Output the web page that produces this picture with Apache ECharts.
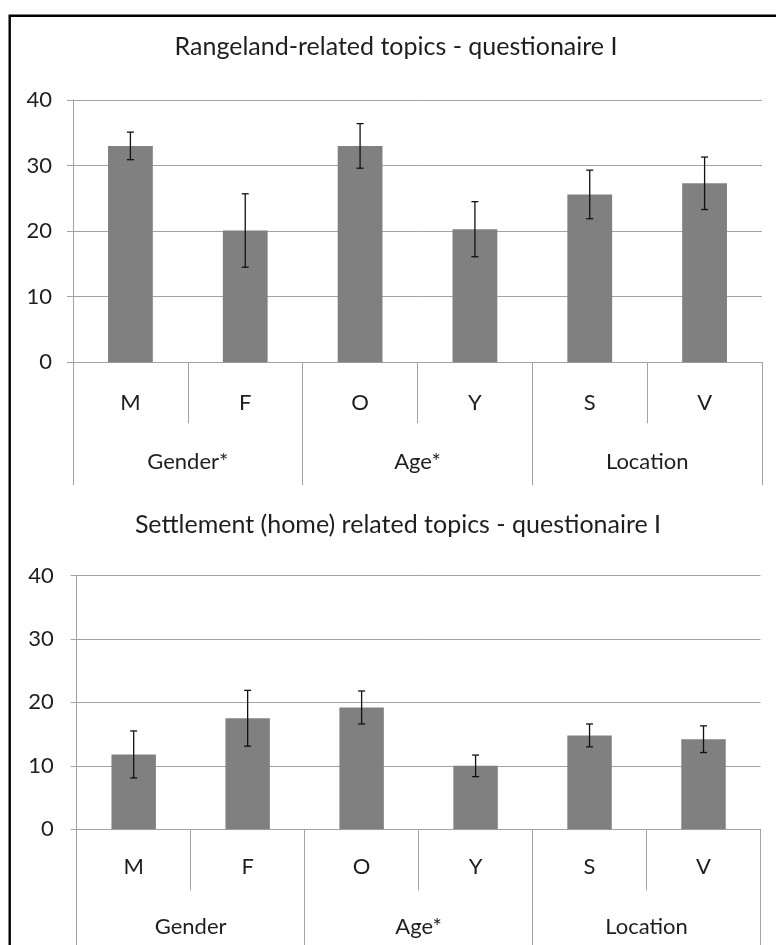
<!DOCTYPE html>
<html>
<head>
<meta charset="utf-8">
<script src="https://cdn.jsdelivr.net/npm/echarts@6/dist/echarts.min.js"></script>
<style>
html,body{margin:0;padding:0;background:#fff;}
#chart{width:776px;height:945px;}
</style>
</head>
<body>
<div id="chart"></div>
<script>
const categories = ['M', 'F', 'O', 'Y', 'S', 'V'];
const groupsTop = ['Gender*', 'Age*', 'Location'];
const groupsBottom = ['Gender', 'Age*', 'Location'];
const titleTop = 'Rangeland-related topics - questionaire I';
const titleBottom = 'Settlement (home) related topics - questionaire I';
const rangelandMean = [33.0, 20.1, 33.0, 20.3, 25.6, 27.3];
const rangelandErr = [2.1, 5.6, 3.4, 4.2, 3.7, 4.0];
const settlementMean = [11.8, 17.5, 19.2, 10.0, 14.8, 14.2];
const settlementErr = [3.7, 4.4, 2.6, 1.7, 1.8, 2.1];
const yTicks = { min: 0, max: 40, interval: 10 };

const FONT = 'Lato, Carlito, "Open Sans", sans-serif';
const TXT = '#1e1e1e';
const GRID = '#a3a3a3';
const FS = 22;
const TFS = 25;

function errData(mean, err) {
  return mean.map((m, i) => [i, m - err[i], m + err[i]]);
}

function errRender(params, api) {
  const i = api.value(0);
  const lo = api.coord([i, api.value(1)]);
  const hi = api.coord([i, api.value(2)]);
  const hw = 3.5;
  const st = { stroke: '#111', lineWidth: 1.3 };
  return {
    type: 'group',
    children: [
      { type: 'line', shape: { x1: hi[0], y1: hi[1], x2: lo[0], y2: lo[1] }, style: st },
      { type: 'line', shape: { x1: hi[0] - hw, y1: hi[1], x2: hi[0] + hw, y2: hi[1] }, style: st },
      { type: 'line', shape: { x1: lo[0] - hw, y1: lo[1], x2: lo[0] + hw, y2: lo[1] }, style: st }
    ]
  };
}

function xAxes(gi, groups, m1, m2, tick2) {
  return [
    {
      type: 'category', gridIndex: gi, data: categories, position: 'bottom',
      boundaryGap: true,
      axisLine: { show: true, lineStyle: { color: GRID, width: 1 } },
      axisTick: { show: true, interval: 0, length: 61, lineStyle: { color: GRID, width: 1 } },
      axisLabel: { interval: 0, margin: m1, color: TXT, fontSize: FS, fontFamily: FONT }
    },
    {
      type: 'category', gridIndex: gi, data: groups, position: 'bottom',
      boundaryGap: true,
      axisLine: { show: false },
      axisTick: { show: true, interval: 0, length: tick2, lineStyle: { color: GRID, width: 1 } },
      axisLabel: { interval: 0, margin: m2, color: TXT, fontSize: FS, fontFamily: FONT }
    }
  ];
}

function yAxis(gi, margin) {
  return {
    type: 'value', gridIndex: gi, min: yTicks.min, max: yTicks.max, interval: yTicks.interval,
    axisLine: { show: true, lineStyle: { color: GRID, width: 1 } },
    axisTick: { show: true, length: 6, lineStyle: { color: GRID, width: 1 } },
    splitLine: { show: true, lineStyle: { color: GRID, width: 1 } },
    axisLabel: { margin: margin, color: TXT, fontSize: FS, fontFamily: FONT }
  };
}

const chart = echarts.init(document.getElementById('chart'), null, { renderer: 'canvas' });
chart.setOption({
  animation: false,
  backgroundColor: '#fff',
  title: [
    { text: titleTop, left: 396, top: 34, textAlign: 'center', padding: 0,
      textStyle: { fontFamily: FONT, fontSize: TFS, fontWeight: 'normal', color: TXT } },
    { text: titleBottom, left: 398, top: 512, textAlign: 'center', padding: 0,
      textStyle: { fontFamily: FONT, fontSize: TFS, fontWeight: 'normal', color: TXT } }
  ],
  graphic: [
    { type: 'rect', shape: { x: 9.7, y: 15.8, width: 820, height: 1000 },
      style: { fill: 'none', stroke: '#000', lineWidth: 2.4 }, silent: true }
  ],
  grid: [
    { left: 73, right: 14, top: 100, height: 262.3 },
    { left: 76.7, right: 15.5, top: 575.5, height: 253.8 }
  ],
  xAxis: [
    ...xAxes(0, groupsTop, 30, 89, 123),
    ...xAxes(1, groupsBottom, 27, 87, 130)
  ],
  yAxis: [yAxis(0, 21), yAxis(1, 23)],
  series: [
    { type: 'bar', xAxisIndex: 0, yAxisIndex: 0, data: rangelandMean, barWidth: '39%',
      itemStyle: { color: '#808080' } },
    { type: 'custom', xAxisIndex: 0, yAxisIndex: 0, data: errData(rangelandMean, rangelandErr),
      renderItem: errRender, z: 5 },
    { type: 'bar', xAxisIndex: 2, yAxisIndex: 1, data: settlementMean, barWidth: '39%',
      itemStyle: { color: '#808080' } },
    { type: 'custom', xAxisIndex: 2, yAxisIndex: 1, data: errData(settlementMean, settlementErr),
      renderItem: errRender, z: 5 }
  ]
});
</script>
</body>
</html>
